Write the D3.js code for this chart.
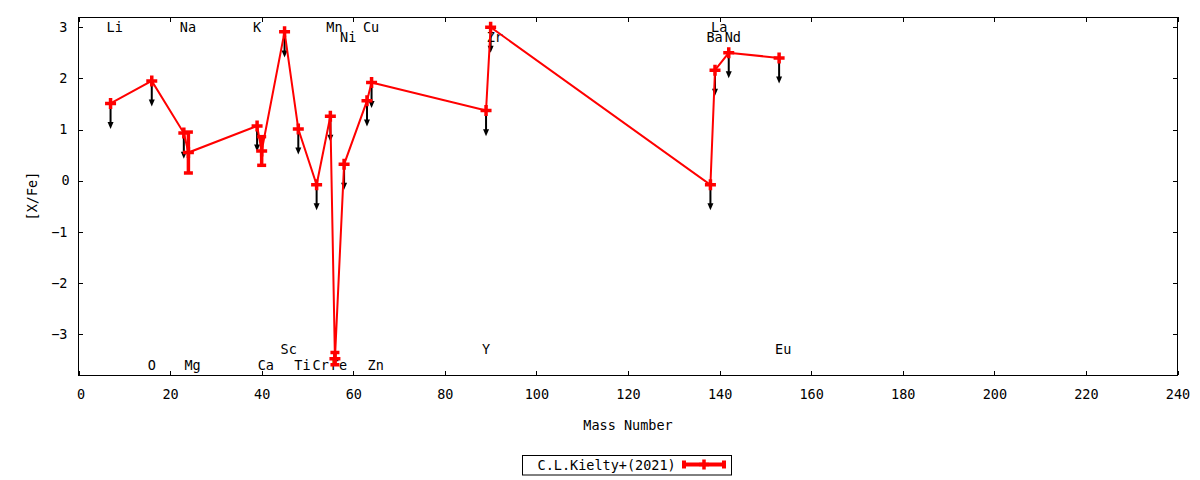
<!DOCTYPE html>
<html>
<head>
<meta charset="utf-8">
<script src="https://cdn.jsdelivr.net/npm/d3@7"></script>
<style>
body { margin: 0; background: #fff; }
svg text { font-family: "DejaVu Sans Mono", monospace; font-size: 13.5px; fill: #000; }
</style>
</head>
<body>
<div id="chart"></div>
<script>
// abundance pattern, one entry per element
var elements     = ["Li", "O", "Na", "Mg", "K", "Ca", "Sc", "Ti", "Cr", "Mn", "Fe", "Ni", "Cu", "Zn", "Y", "Zr", "Ba", "La", "Nd", "Eu"];
var massNumbers  = [7, 16, 23, 24, 39, 40, 45, 48, 52, 55, 56, 58, 63, 64, 89, 90, 138, 139, 142, 153];
var abundances   = [1.51, 1.95, 0.93, 0.55, 1.07, 0.58, 2.91, 1.01, -0.08, 1.26, -3.48, 0.32, 1.56, 1.92, 1.37, 3.00, -0.08, 2.16, 2.50, 2.40];
var errors       = [0, 0, 0, 0.40, 0, 0.28, 0, 0, 0, 0, 0.12, 0, 0, 0, 0, 0, 0, 0, 0, 0];
var upperLimits  = [1, 1, 1, 0, 1, 0, 1, 1, 1, 1, 0, 1, 1, 1, 1, 1, 1, 1, 1, 1];
// where each element name sits, in [X/Fe] units
var labelLevels  = [3.0, -3.6, 3.0, -3.6, 3.0, -3.6, -3.3, -3.6, -3.6, 3.0, -3.6, 2.8, 3.0, -3.6, -3.3, 2.8, 2.8, 3.0, 2.8, -3.3];
var xTicks = [0, 20, 40, 60, 80, 100, 120, 140, 160, 180, 200, 220, 240];
var yTicks = [-3, -2, -1, 0, 1, 2, 3];
var seriesName = "C.L.Kielty+(2021)";

var width = 1200,
    height = 480,
    margin = {top: 17, right: 22.5, bottom: 105, left: 78.5},
    red = "#ff0000";

var data = elements.map(function(el, i) {
    return {name: el, mass: massNumbers[i], value: abundances[i], err: errors[i],
            limit: upperLimits[i] === 1, level: labelLevels[i]};
});

var svg = d3.select("#chart").append("svg")
        .attr("width", width)
        .attr("height", height);

var g = svg.append("g")
    .attr("transform", "translate(" + margin.left + "," + margin.top + ")");

var w = width - margin.left - margin.right,
    h = height - margin.top - margin.bottom;

var x = d3.scaleLinear().domain([0, 240]).range([0, w]);
var y = d3.scaleLinear().domain([-3.8, 3.2]).range([h, 0]);

// axes, ticks pointing inwards, mirrored on top and right
g.append("g")
    .attr("transform", "translate(0," + h + ")")
    .call(d3.axisBottom(x).tickValues(xTicks).tickSize(-4.5).tickPadding(14).tickFormat(d3.format("d")));
g.append("g")
    .call(d3.axisTop(x).tickValues(xTicks).tickSize(-4.5).tickFormat(""));
g.append("g")
    .call(d3.axisLeft(y).tickValues(yTicks).tickSize(-4.5).tickPadding(11).tickFormat(d3.format("d")));
g.append("g")
    .attr("transform", "translate(" + w + ",0)")
    .call(d3.axisRight(y).tickValues(yTicks).tickSize(-4.5).tickFormat(""));

g.selectAll(".domain").remove();
g.selectAll(".tick line").attr("stroke", "#000").attr("shape-rendering", "crispEdges");
g.selectAll(".tick text").attr("font-family", null).attr("font-size", null);
g.selectAll(".tick").each(function(d) {
    if (d === 0) d3.select(this).select("text").attr("dx", "0.15em");
});

g.append("rect")
    .attr("width", w)
    .attr("height", h)
    .attr("fill", "none")
    .attr("stroke", "#000")
    .attr("stroke-width", 1)
    .attr("shape-rendering", "crispEdges");

// element names
g.append("g").selectAll("text")
    .data(data)
    .enter().append("text")
    .attr("x", function(d) { return x(d.mass) - 4; })
    .attr("y", function(d) { return y(d.level); })
    .attr("dy", ".36em")
    .text(function(d) { return d.name; });

// upper limit arrows
var arrows = g.append("g").selectAll("g")
    .data(data.filter(function(d) { return d.limit; }))
    .enter().append("g");

arrows.append("line")
    .attr("x1", function(d) { return x(d.mass); })
    .attr("x2", function(d) { return x(d.mass); })
    .attr("y1", function(d) { return y(d.value); })
    .attr("y2", function(d) { return y(d.value - 0.5) - 5; })
    .attr("stroke", "#000")
    .attr("stroke-width", 2);

arrows.append("path")
    .attr("d", function(d) {
        var cx = x(d.mass), tip = y(d.value - 0.5);
        return "M" + (cx - 3) + "," + (tip - 7) + "L" + (cx + 3) + "," + (tip - 7) + "L" + cx + "," + tip + "Z";
    })
    .attr("fill", "#000");

// connecting line
var line = d3.line()
    .x(function(d) { return x(d.mass); })
    .y(function(d) { return y(d.value); });

g.append("path")
    .datum(data)
    .attr("d", line)
    .attr("fill", "none")
    .attr("stroke", red)
    .attr("stroke-width", 2);

// error bars
var bars = g.append("g").selectAll("g")
    .data(data.filter(function(d) { return d.err > 0; }))
    .enter().append("g")
    .attr("stroke", red)
    .attr("stroke-width", 3.5);

bars.append("line")
    .attr("x1", function(d) { return x(d.mass); })
    .attr("x2", function(d) { return x(d.mass); })
    .attr("y1", function(d) { return y(d.value - d.err); })
    .attr("y2", function(d) { return y(d.value + d.err); });

bars.selectAll(".cap")
    .data(function(d) { return [[d.mass, d.value - d.err], [d.mass, d.value + d.err]]; })
    .enter().append("line")
    .attr("class", "cap")
    .attr("x1", function(d) { return x(d[0]) - 4.5; })
    .attr("x2", function(d) { return x(d[0]) + 4.5; })
    .attr("y1", function(d) { return y(d[1]); })
    .attr("y2", function(d) { return y(d[1]); });

// plus markers
g.append("g").selectAll("path")
    .data(data)
    .enter().append("path")
    .attr("transform", function(d) { return "translate(" + x(d.mass) + "," + y(d.value) + ")"; })
    .attr("d", "M-5.5,0H5.5M0,-5.5V5.5")
    .attr("stroke", red)
    .attr("stroke-width", 3.5);

// axis titles
svg.append("text")
    .attr("transform", "translate(32," + (margin.top + y(-0.3)) + ") rotate(-90)")
    .attr("text-anchor", "middle")
    .attr("dy", ".36em")
    .text("[X/Fe]");

svg.append("text")
    .attr("x", margin.left + w / 2)
    .attr("y", 425)
    .attr("text-anchor", "middle")
    .attr("dy", ".36em")
    .text("Mass Number");

// legend
var legend = svg.append("g").attr("transform", "translate(522.5,455.5)");

legend.append("rect")
    .attr("width", 209)
    .attr("height", 19.5)
    .attr("fill", "none")
    .attr("stroke", "#000")
    .attr("stroke-width", 1);

legend.append("text")
    .attr("x", 15)
    .attr("y", 9.5)
    .attr("dy", ".36em")
    .text(seriesName);

var sample = legend.append("g")
    .attr("stroke", red)
    .attr("stroke-width", 4);

sample.append("line").attr("x1", 160).attr("x2", 203).attr("y1", 9).attr("y2", 9);
sample.append("line").attr("x1", 161.5).attr("x2", 161.5).attr("y1", 5).attr("y2", 13);
sample.append("line").attr("x1", 201.5).attr("x2", 201.5).attr("y1", 5).attr("y2", 13);
sample.append("path")
    .attr("transform", "translate(181.5,9)")
    .attr("d", "M-5,0H5M0,-5V5")
    .attr("stroke-width", 3.5);
</script>
</body>
</html>
